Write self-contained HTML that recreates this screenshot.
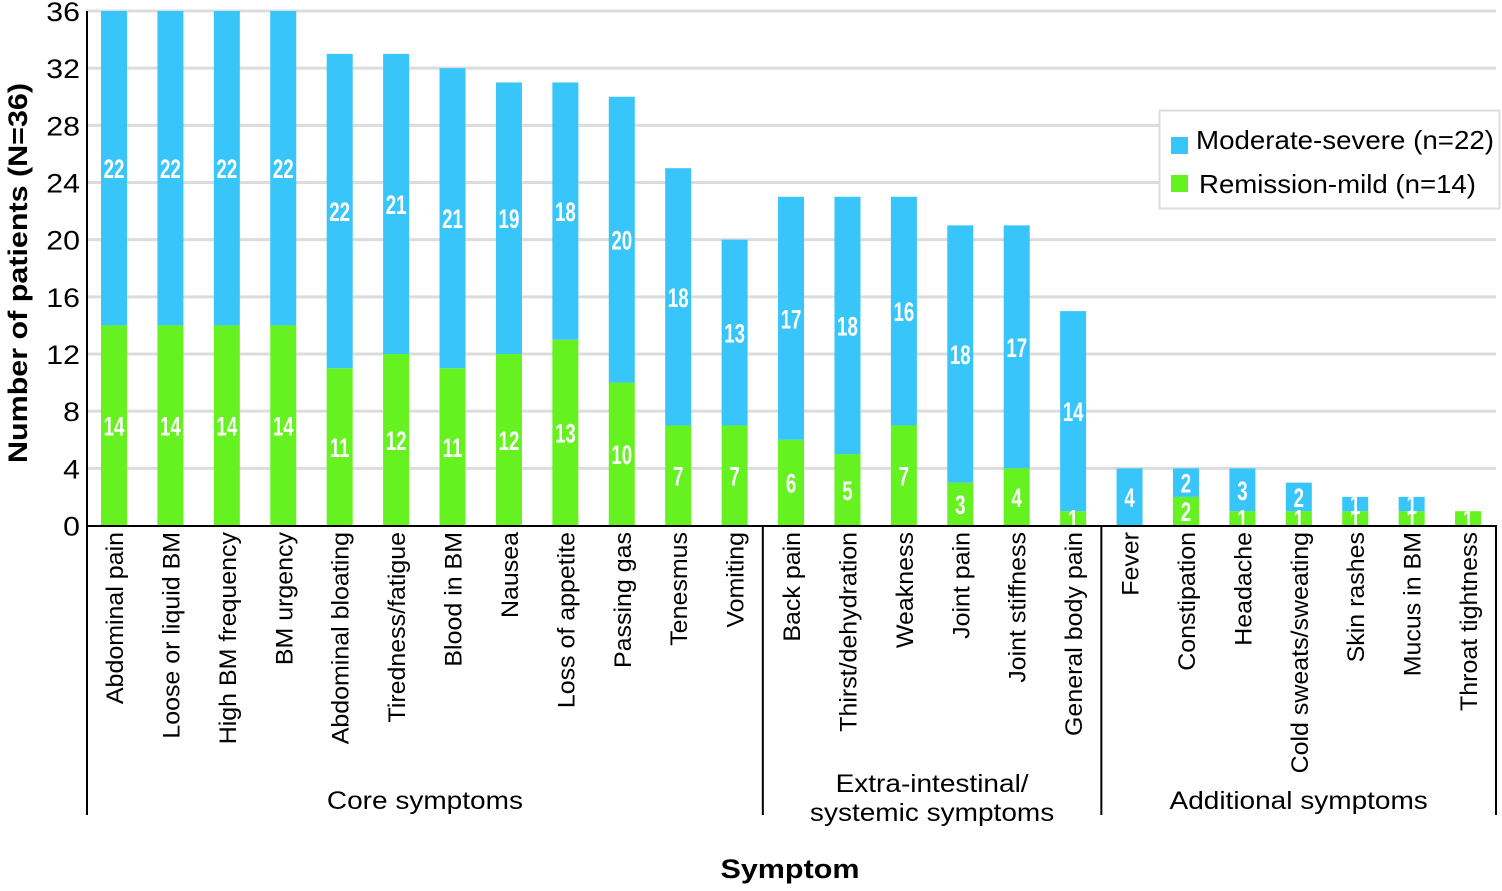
<!DOCTYPE html>
<html><head><meta charset="utf-8"><style>
html,body{margin:0;padding:0;background:#fff;}
svg{display:block;font-family:"Liberation Sans",Arial,sans-serif;}
</style></head><body>
<svg id="chart" width="1502" height="891" viewBox="0 0 1502 891" xmlns="http://www.w3.org/2000/svg">
<g id="grid"></g>
<g id="bars"></g>
<g id="axes"></g>
<g id="legend">
  <rect x="1159.5" y="110.5" width="340" height="98" fill="#fff" stroke="#dcdcdc" stroke-width="2"/>
  <rect x="1171" y="137" width="17" height="17" fill="#38c5fa"/>
  <text x="1196" y="149" font-size="26" textLength="298" lengthAdjust="spacingAndGlyphs">Moderate-severe (n=22)</text>
  <rect x="1171" y="175" width="17" height="17" fill="#66f221"/>
  <text x="1199" y="193" font-size="26" textLength="277" lengthAdjust="spacingAndGlyphs">Remission-mild (n=14)</text>
</g>
<text transform="translate(27,273) rotate(-90)" text-anchor="middle" font-size="27" font-weight="bold" textLength="380" lengthAdjust="spacingAndGlyphs">Number of patients (N=36)</text>
<text x="790" y="878" text-anchor="middle" font-size="27" font-weight="bold" textLength="139" lengthAdjust="spacingAndGlyphs">Symptom</text>
</svg>
<script>
const categories=["Abdominal pain","Loose or liquid BM","High BM frequency","BM urgency","Abdominal bloating","Tiredness/fatigue","Blood in BM","Nausea","Loss of appetite","Passing gas","Tenesmus","Vomiting","Back pain","Thirst/dehydration","Weakness","Joint pain","Joint stiffness","General body pain","Fever","Constipation","Headache","Cold sweats/sweating","Skin rashes","Mucus in BM","Throat tightness"];
const moderateValues=[22,22,22,22,22,21,21,19,18,20,18,13,17,18,16,18,17,14,4,2,3,2,1,1,0];
const mildValues=[14,14,14,14,11,12,11,12,13,10,7,7,6,5,7,3,4,1,0,2,1,1,1,1,1];
const yTicks=[0,4,8,12,16,20,24,28,32,36];
const groups=[{name:["Core symptoms"],start:0,end:11},{name:["Extra-intestinal/","systemic symptoms"],start:12,end:17},{name:["Additional symptoms"],start:18,end:24}];
const NS="http://www.w3.org/2000/svg";
const y0=525.5,yTop=11,yMax=36;
const x0=87,step=56.42,firstC=114,bw=26;
const yS=v=>y0-(y0-yTop)*v/yMax;
const xC=i=>firstC+i*step;
function mk(tag,attrs,parent,txt){const e=document.createElementNS(NS,tag);for(const k in attrs)e.setAttribute(k,attrs[k]);if(txt!==undefined)e.textContent=txt;parent.appendChild(e);return e;}
function stretch(el,f){const w=el.getComputedTextLength();el.setAttribute('textLength',(w*f).toFixed(1));el.setAttribute('lengthAdjust','spacingAndGlyphs');}
const grid=document.getElementById('grid'),bars=document.getElementById('bars'),axes=document.getElementById('axes');
yTicks.forEach(t=>{
  if(t>0){const l=mk('line',{x1:x0,x2:1496,y1:yS(t),y2:yS(t),stroke:'#dcdcdc','stroke-width':3},grid);
  
  }
  const tx=mk('text',{x:80,y:yS(t)+10,'text-anchor':'end','font-size':27},axes,String(t));
  
  
  stretch(tx,1.12);
});
categories.forEach((c,i)=>{
  const cx=xC(i),m=mildValues[i],s=moderateValues[i];
  const g=mk('g',{},bars);
  
  
  if(m>0){const r=mk('rect',{x:cx-bw/2,y:yS(m),width:bw,height:yS(0)-yS(m),fill:'#66f221'},g);
    
    }
  if(s>0){const r=mk('rect',{x:cx-bw/2,y:yS(m+s),width:bw,height:yS(m)-yS(m+s),fill:'#38c5fa'},g);
    
    }
  const lab=(v,base)=>{const yy=(yS(base)+yS(base+v))/2+10;
    const t=mk('text',{transform:`translate(${cx},${yy}) scale(0.78,1.1)`,x:0,y:0,'text-anchor':'middle','font-size':24,'font-weight':'bold',fill:'#fff'},g,String(v));
    
    };
  if(m>0)lab(m,0);
  if(s>0)lab(s,m);
  const xl=mk('text',{transform:`translate(${cx+9},532) rotate(-90)`,'text-anchor':'end','font-size':24},axes,c);
  
  
  stretch(xl,1.04);
});
mk('line',{x1:x0,x2:x0,y1:yTop,y2:815,stroke:'#000','stroke-width':2},axes);
mk('line',{x1:x0,x2:1497,y1:526,y2:526,stroke:'#000','stroke-width':2},axes);
mk('line',{x1:1496,x2:1496,y1:526,y2:815,stroke:'#000','stroke-width':2},axes);
groups.forEach((gr,k)=>{
  const left=k===0?x0:(xC(gr.start)+xC(gr.start-1))/2;
  const right=k===groups.length-1?1496:(xC(gr.end)+xC(gr.end+1))/2;
  if(k>0){const l=mk('line',{x1:left,x2:left,y1:526,y2:815,stroke:'#000','stroke-width':2},axes);
    
    }
  const mid=(left+right)/2;
  const n=gr.name.length;
  gr.name.forEach((ln,j)=>{
    const t=mk('text',{x:mid,y:(n===1?809:792+j*29),'text-anchor':'middle','font-size':25},axes,ln);
    
    
    stretch(t,1.12);
  });
});
</script>
</body></html>
